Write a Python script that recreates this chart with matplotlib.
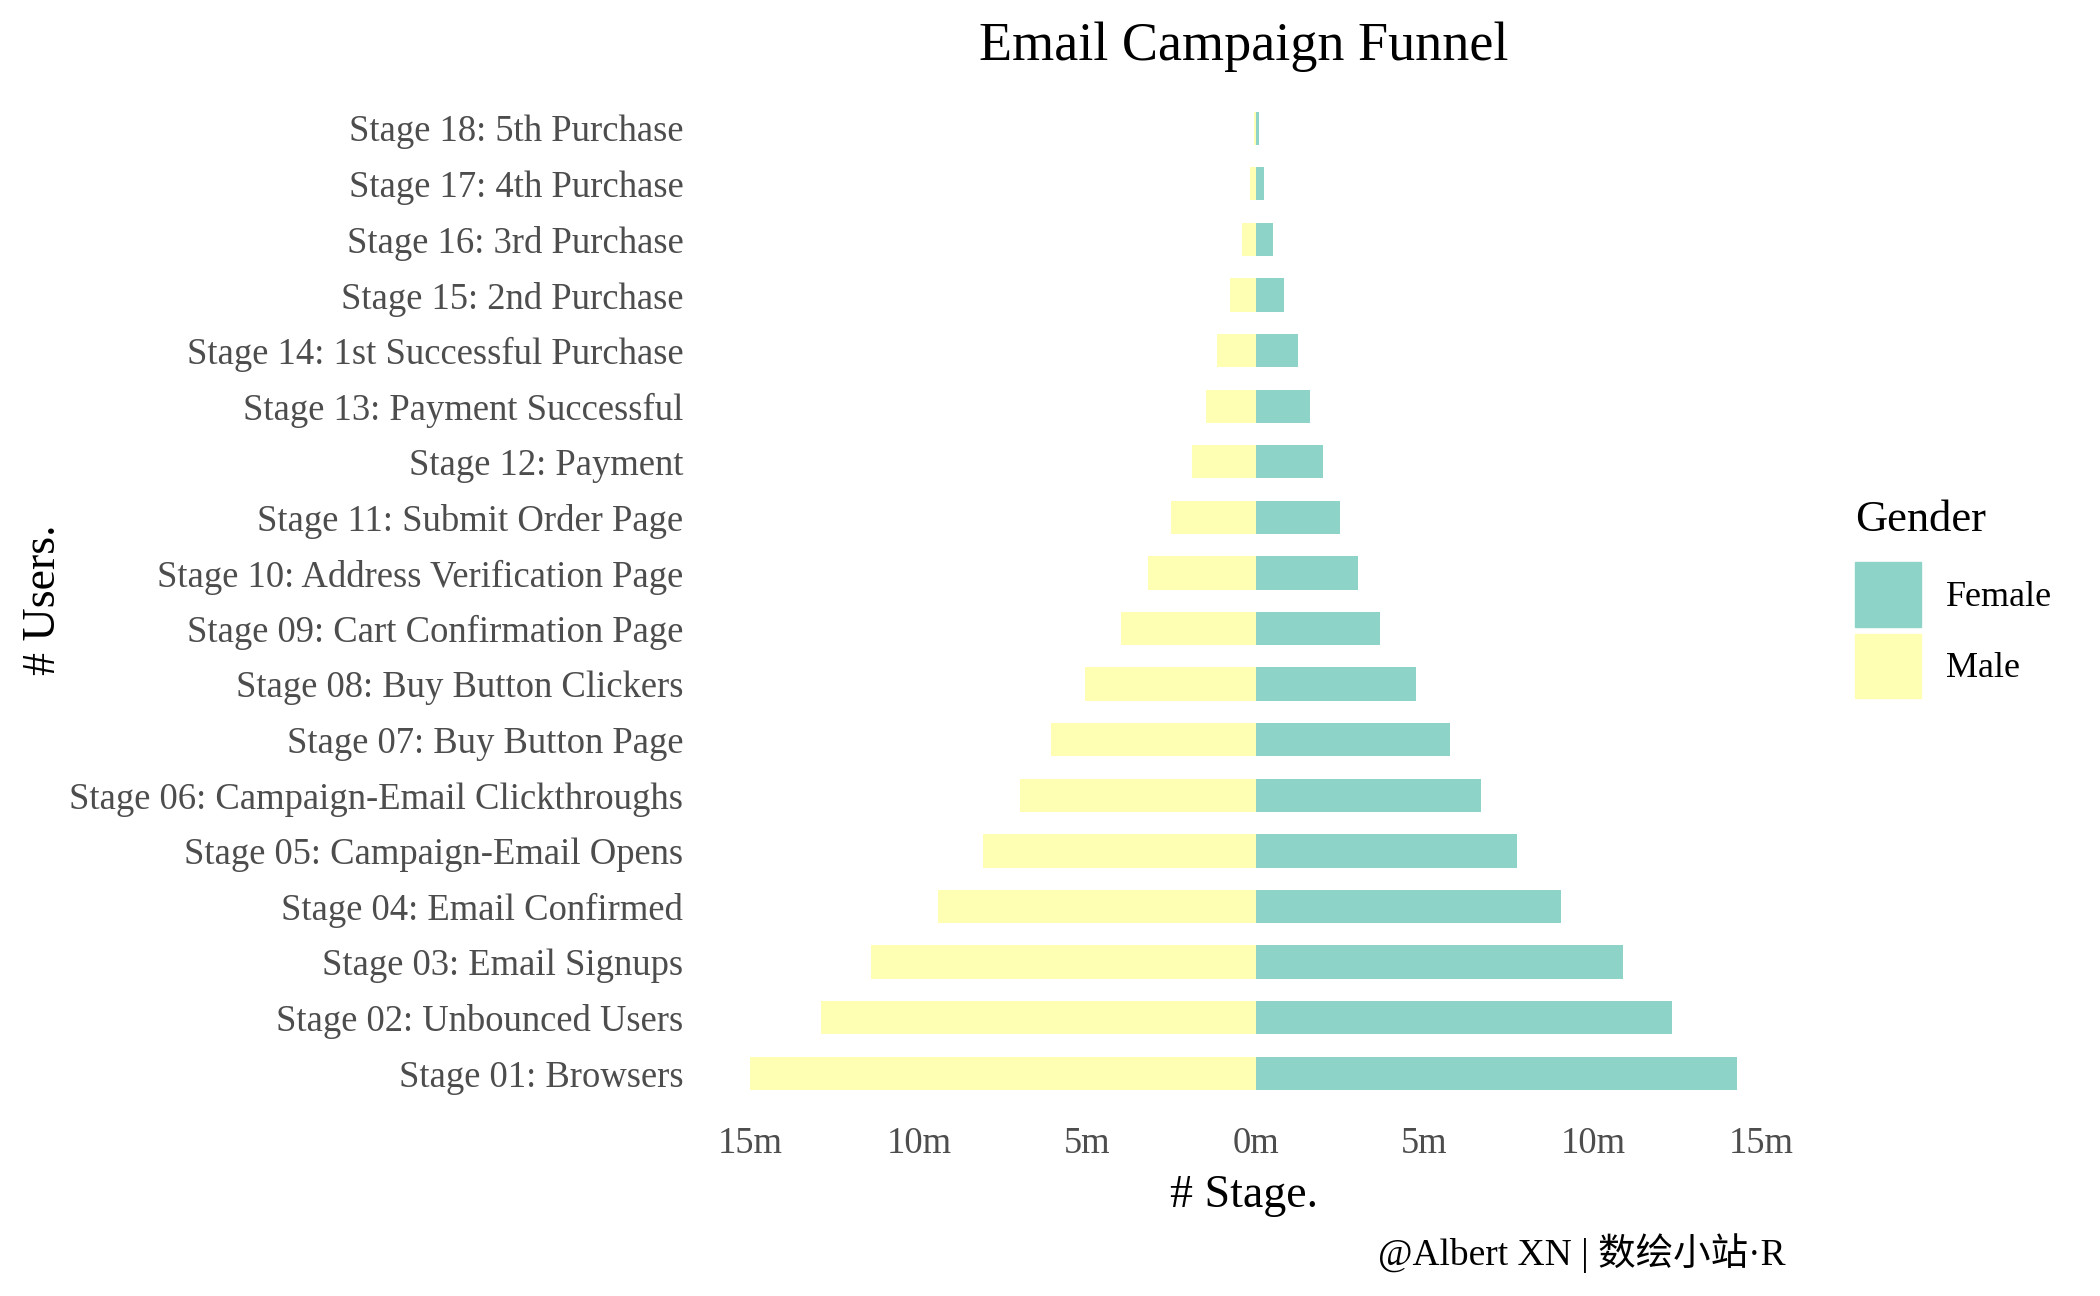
import matplotlib

matplotlib.use("Agg")
import matplotlib.pyplot as plt  # noqa: E402
from matplotlib.patches import Patch  # noqa: E402
from matplotlib.ticker import FixedLocator, FuncFormatter  # noqa: E402

plt.rcParams.update({
    "font.family": ["Liberation Serif", "Noto Sans CJK SC", "DejaVu Sans"],
    "axes.unicode_minus": False,
})

# funnel data, millions of users, Stage 01 first
stages = [
    "Stage 01: Browsers", "Stage 02: Unbounced Users", "Stage 03: Email Signups",
    "Stage 04: Email Confirmed", "Stage 05: Campaign-Email Opens",
    "Stage 06: Campaign-Email Clickthroughs", "Stage 07: Buy Button Page",
    "Stage 08: Buy Button Clickers", "Stage 09: Cart Confirmation Page",
    "Stage 10: Address Verification Page", "Stage 11: Submit Order Page",
    "Stage 12: Payment", "Stage 13: Payment Successful",
    "Stage 14: 1st Successful Purchase", "Stage 15: 2nd Purchase",
    "Stage 16: 3rd Purchase", "Stage 17: 4th Purchase", "Stage 18: 5th Purchase",
]
female = [14.28, 12.35, 10.89, 9.04, 7.76, 6.69, 5.77, 4.76, 3.68, 3.03,
          2.50, 1.99, 1.61, 1.25, 0.83, 0.51, 0.24, 0.09]
male = [15.00, 12.92, 11.41, 9.44, 8.10, 6.99, 6.08, 5.07, 4.01, 3.19,
        2.51, 1.90, 1.49, 1.16, 0.77, 0.42, 0.18, 0.06]
x_ticks = [-15, -10, -5, 0, 5, 10, 15]

_TEAL, _YELLOW, _GREY = "#8DD3C7", "#FFFFB3", "#4d4d4d"

fig = plt.figure(figsize=(21, 12.96), dpi=100)
ax = fig.add_axes([0.3333, 0.1461, 0.5175, 0.7807])

pos = list(range(1, len(stages) + 1))
ax.barh(pos, female, height=0.6, color=_TEAL, label="Female")
ax.barh(pos, [-v for v in male], height=0.6, color=_YELLOW, label="Male")

ax.set_xlim(-16.5, 15.75)
ax.set_ylim(0.4, len(stages) + 0.6)
ax.xaxis.set_major_locator(FixedLocator(x_ticks))
ax.xaxis.set_major_formatter(FuncFormatter(lambda v, _: f"{abs(int(round(v)))}m"))
ax.set_yticks(pos)
ax.set_yticklabels(stages)
ax.tick_params(axis="both", length=0, labelsize=26.4, labelcolor=_GREY)
ax.tick_params(axis="x", pad=14)
ax.tick_params(axis="y", pad=12)
for s in ax.spines.values():
    s.set_visible(False)

fig.text(0.5924, 1 - 47 / 1296, "Email Campaign Funnel", fontsize=39,
         ha="center", va="center")
fig.text(0.5924, 1 - 1196 / 1296, "# Stage.", fontsize=33, ha="center", va="center")
fig.text(44 / 2100, 1 - 600 / 1296, "# Users.", fontsize=33, rotation=90,
         ha="center", va="center")
fig.text(1786 / 2100, 1 - 1253 / 1296, "@Albert XN | 数绘小站·R", fontsize=27,
         ha="right", va="center")

handles = [Patch(color=_TEAL, label="Female"), Patch(color=_YELLOW, label="Male")]
leg = fig.legend(handles=handles, title="Gender", loc="upper left",
                 bbox_to_anchor=(1855 / 2100, 1 - 500 / 1296), frameon=False,
                 fontsize=26, title_fontsize=32, handlelength=1.83, handleheight=2.37,
                 labelspacing=0.2, handletextpad=0.7, borderpad=0, borderaxespad=0,
                 alignment="left")
leg._legend_box.sep = 16  # more room under the legend title

fig.savefig("out.png", dpi=100, facecolor="white")
